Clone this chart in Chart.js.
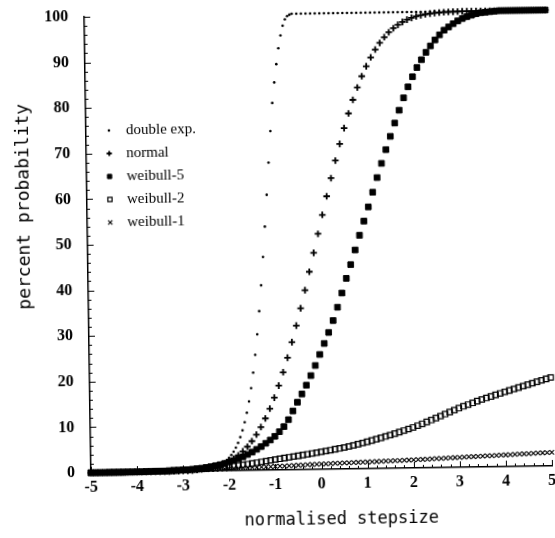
<!DOCTYPE html>
<html>
<head>
<meta charset="utf-8">
<script src="https://cdn.jsdelivr.net/npm/chart.js"></script>
<style>
  html, body { margin: 0; padding: 0; background: #fff; overflow: hidden; }
  #wrap { position: relative; width: 555px; height: 538px; }
  /* the scanned original sits slightly skewed on the page */
  #chart { position: absolute; left: 0; top: 0; transform: rotate(-0.85deg); }
</style>
</head>
<body>
<div id="wrap"><canvas id="chart" width="555" height="538"></canvas></div>
<script>
const xTickLabels = ['-5', '-4', '-3', '-2', '-1', '0', '1', '2', '3', '4', '5'];
const yTickLabels = ['0', '10', '20', '30', '40', '50', '60', '70', '80', '90', '100'];
const seriesNames = ['double exp.', 'normal', 'weibull-5', 'weibull-2', 'weibull-1'];

// normalised stepsize, sampled every 0.1
const stepsize = [
  -5.0, -4.9, -4.8, -4.7, -4.6, -4.5, -4.4, -4.3, -4.2, -4.1,
  -4.0, -3.9, -3.8, -3.7, -3.6, -3.5, -3.4, -3.3, -3.2, -3.1,
  -3.0, -2.9, -2.8, -2.7, -2.6, -2.5, -2.4, -2.3, -2.2, -2.1,
  -2.0, -1.9, -1.8, -1.7, -1.6, -1.5, -1.4, -1.3, -1.2, -1.1,
  -1.0, -0.9, -0.8, -0.7, -0.6, -0.5, -0.4, -0.3, -0.2, -0.1,
  0.0, 0.1, 0.2, 0.3, 0.4, 0.5, 0.6, 0.7, 0.8, 0.9,
  1.0, 1.1, 1.2, 1.3, 1.4, 1.5, 1.6, 1.7, 1.8, 1.9,
  2.0, 2.1, 2.2, 2.3, 2.4, 2.5, 2.6, 2.7, 2.8, 2.9,
  3.0, 3.1, 3.2, 3.3, 3.4, 3.5, 3.6, 3.7, 3.8, 3.9,
  4.0, 4.1, 4.2, 4.3, 4.4, 4.5, 4.6, 4.7, 4.8, 4.9,
  5.0
];

// double exp. is sampled more finely through its steep part
const doubleExpX = [
  -5.0, -4.9, -4.8, -4.7, -4.6, -4.5, -4.4, -4.3, -4.2, -4.1,
  -4.0, -3.9, -3.8, -3.7, -3.6, -3.5, -3.4, -3.3, -3.2, -3.1,
  -3.0, -2.9, -2.8, -2.7,
  -2.60, -2.55, -2.50, -2.45, -2.40, -2.35, -2.30, -2.25, -2.20, -2.15,
  -2.10, -2.05, -2.00, -1.95, -1.90, -1.85, -1.80, -1.75, -1.70, -1.65,
  -1.60, -1.55, -1.50, -1.45, -1.40, -1.35, -1.30, -1.25, -1.20, -1.15,
  -1.10, -1.05, -1.00, -0.95, -0.90, -0.85, -0.80, -0.75, -0.70, -0.65,
  -0.60, -0.55, -0.50,
  -0.4, -0.3, -0.2, -0.1,
  0.0, 0.1, 0.2, 0.3, 0.4, 0.5, 0.6, 0.7, 0.8, 0.9,
  1.0, 1.1, 1.2, 1.3, 1.4, 1.5, 1.6, 1.7, 1.8, 1.9,
  2.0, 2.1, 2.2, 2.3, 2.4, 2.5, 2.6, 2.7, 2.8, 2.9,
  3.0, 3.1, 3.2, 3.3, 3.4, 3.5, 3.6, 3.7, 3.8, 3.9,
  4.0, 4.1, 4.2, 4.3, 4.4, 4.5, 4.6, 4.7, 4.8, 4.9,
  5.0
];
const doubleExp = [
  0, 0, 0, 0, 0, 0, 0, 0, 0, 0,
  0, 0, 0, 0, 0, 0, 0.01, 0.02, 0.03, 0.04,
  0.06, 0.09, 0.14, 0.2,
  0.29, 0.35, 0.42, 0.51, 0.62, 0.75, 0.91, 1.1, 1.34, 1.62,
  1.96, 2.37, 2.86, 3.46, 4.18, 5.04, 6.08, 7.32, 8.8, 10.57,
  12.66, 15.13, 18.04, 21.42, 25.32, 29.82, 34.89, 40.55, 46.75, 53.42,
  60.38, 67.44, 74.33, 80.5, 85.0, 89.0, 92.5, 95.3, 97.4, 98.8,
  99.5, 99.8, 100,
  100, 100, 100, 100,
  100, 100, 100, 100, 100, 100, 100, 100, 100, 100,
  100, 100, 100, 100, 100, 100, 100, 100, 100, 100,
  100, 100, 100, 100, 100, 100, 100, 100, 100, 100,
  100, 100, 100, 100, 100, 100, 100, 100, 100, 100,
  100, 100, 100, 100, 100, 100, 100, 100, 100, 100,
  100
];

const normal = [
  0, 0, 0, 0, 0, 0, 0, 0, 0, 0,
  0, 0, 0, 0, 0, 0.01, 0.02, 0.03, 0.05, 0.07,
  0.1, 0.14, 0.2, 0.28, 0.38, 0.52, 0.7, 0.93, 1.22, 1.59,
  2.06, 2.63, 3.34, 4.19, 5.21, 6.41, 7.83, 9.47, 11.35, 13.48,
  15.87, 18.51, 21.42, 24.59, 27.99, 31.6, 35.38, 39.33, 43.37, 47.51,
  51.66, 55.8, 59.87, 63.83, 67.66, 71.31, 74.76, 77.96, 80.92, 83.62,
  86.07, 88.25, 90.18, 91.87, 93.32, 94.56, 95.62, 96.5, 97.24, 97.84,
  98.32, 98.71, 99.02, 99.26, 99.45, 99.59, 99.7, 99.78, 99.85, 99.89,
  99.92, 99.95, 99.97, 99.98, 100, 100, 100, 100, 100, 100,
  100, 100, 100, 100, 100, 100, 100, 100, 100, 100,
  100
];

const weibull5 = [
  0, 0, 0, 0, 0, 0, 0.01, 0.01, 0.02, 0.02,
  0.03, 0.04, 0.05, 0.06, 0.08, 0.1, 0.13, 0.16, 0.2, 0.25,
  0.3, 0.37, 0.45, 0.55, 0.65, 0.8, 0.95, 1.15, 1.35, 1.6,
  1.9, 2.2, 2.6, 3.0, 3.5, 4.0, 4.6, 5.2, 5.9, 6.6,
  7.4, 8.4, 9.5, 11.0, 12.9, 14.8, 16.6, 18.5, 20.6, 22.8,
  25.2, 27.6, 30.0, 32.6, 35.5, 38.6, 41.8, 44.8, 48.0, 51.2,
  54.3, 57.4, 60.6, 63.8, 66.9, 69.9, 72.8, 75.7, 78.5, 81.2,
  83.6, 85.8, 87.8, 89.5, 91.1, 92.5, 93.8, 94.9, 95.9, 96.6,
  97.3, 97.9, 98.4, 98.8, 99.1, 99.4, 99.6, 99.7, 99.8, 99.9,
  100, 100, 100, 100, 100, 100, 100, 100, 100, 100,
  100
];

const weibull2 = [
  0, 0, 0.01, 0.01, 0.02, 0.02, 0.03, 0.03, 0.04, 0.04,
  0.05, 0.07, 0.09, 0.11, 0.13, 0.15, 0.18, 0.21, 0.24, 0.27,
  0.3, 0.35, 0.4, 0.45, 0.5, 0.55, 0.62, 0.69, 0.76, 0.83,
  0.9, 1.02, 1.14, 1.26, 1.38, 1.5, 1.66, 1.82, 1.98, 2.14,
  2.3, 2.45, 2.6, 2.75, 2.9, 3.05, 3.2, 3.36, 3.52, 3.68,
  3.84, 4.0, 4.18, 4.36, 4.54, 4.72, 4.94, 5.16, 5.4, 5.65,
  5.9, 6.17, 6.44, 6.72, 7.0, 7.3, 7.6, 7.92, 8.24, 8.56,
  8.9, 9.28, 9.66, 10.06, 10.46, 10.88, 11.3, 11.72, 12.14, 12.56,
  12.98, 13.36, 13.72, 14.08, 14.44, 14.8, 15.12, 15.44, 15.76, 16.08,
  16.4, 16.7, 17.0, 17.3, 17.6, 17.9, 18.2, 18.5, 18.8, 19.1,
  19.4
];

const weibull1 = [
  0, 0, 0, 0, 0.01, 0.01, 0.02, 0.02, 0.03, 0.04,
  0.05, 0.06, 0.07, 0.08, 0.09, 0.1, 0.12, 0.14, 0.16, 0.18,
  0.2, 0.22, 0.24, 0.27, 0.3, 0.32, 0.35, 0.38, 0.41, 0.44,
  0.47, 0.5, 0.53, 0.56, 0.59, 0.62, 0.65, 0.69, 0.72, 0.76,
  0.8, 0.84, 0.87, 0.91, 0.95, 0.99, 1.02, 1.06, 1.1, 1.13,
  1.17, 1.2, 1.23, 1.27, 1.3, 1.33, 1.36, 1.39, 1.42, 1.45,
  1.48, 1.51, 1.54, 1.57, 1.6, 1.63, 1.66, 1.69, 1.72, 1.75,
  1.78, 1.82, 1.86, 1.9, 1.94, 1.98, 2.02, 2.06, 2.1, 2.14,
  2.18, 2.22, 2.26, 2.3, 2.34, 2.38, 2.42, 2.46, 2.5, 2.54,
  2.58, 2.62, 2.66, 2.7, 2.74, 2.78, 2.82, 2.86, 2.9, 2.94,
  2.98
];

const pairs = (xs, ys) => xs.map((x, i) => ({ x: x, y: ys[i] }));

// small inward tick marks on both axes
const innerTicks = {
  id: 'innerTicks',
  afterDraw(chart) {
    const { ctx, chartArea: a, scales: { x, y } } = chart;
    ctx.save();
    ctx.strokeStyle = '#000';
    ctx.lineWidth = 1;
    ctx.beginPath();
    for (let v = 0; v <= 100; v += 2) {
      const py = Math.round(y.getPixelForValue(v)) + 0.5;
      const len = v % 10 === 0 ? 6 : 3;
      ctx.moveTo(a.left, py);
      ctx.lineTo(a.left + len, py);
    }
    for (let k = 0; k <= 50; k++) {
      const v = -5 + k * 0.2;
      const px = Math.round(x.getPixelForValue(v)) + 0.5;
      const len = k % 5 === 0 ? 6 : 3;
      ctx.moveTo(px, a.bottom);
      ctx.lineTo(px, a.bottom - len);
    }
    ctx.stroke();
    ctx.restore();
  }
};

// axis titles
const axisTitles = {
  id: 'axisTitles',
  afterDraw(chart) {
    const ctx = chart.ctx;
    ctx.save();
    ctx.fillStyle = '#000';
    ctx.textAlign = 'center';
    ctx.textBaseline = 'middle';
    ctx.font = '17px "DejaVu Sans Mono"';
    ctx.fillText('normalised stepsize', 338, 521);
    ctx.translate(25, 203);
    ctx.rotate(-Math.PI / 2);
    ctx.font = '18px "DejaVu Sans Mono"';
    ctx.fillText('percent probability', 0, 0);
    ctx.restore();
  }
};

// legend inside the plot, upper left
const insideLegend = {
  id: 'insideLegend',
  afterDraw(chart) {
    const { ctx, chartArea: a } = chart;
    ctx.save();
    ctx.textBaseline = 'middle';
    ctx.font = '15px "Liberation Serif"';
    chart.data.datasets.forEach((ds, i) => {
      const y = a.top + 114 + i * 23;
      const x = a.left + 23;
      ctx.fillStyle = ds.pointBackgroundColor;
      ctx.strokeStyle = '#000';
      ctx.lineWidth = ds.pointBorderWidth || 1;
      Chart.helpers.drawPoint(ctx, {
        pointStyle: ds.pointStyle,
        radius: ds.legendRadius,
        borderWidth: ds.pointBorderWidth,
        rotation: 0
      }, x, y);
      ctx.fillStyle = '#000';
      ctx.fillText(ds.label, a.left + 40, y);
    });
    ctx.restore();
  }
};

const tickFont = { family: '"Liberation Serif"', size: 16, weight: 'bold' };

new Chart(document.getElementById('chart'), {
  type: 'scatter',
  data: {
    datasets: [
      {
        label: seriesNames[0],
        data: pairs(doubleExpX, doubleExp),
        pointStyle: 'circle',
        pointRadius: 1.3,
        legendRadius: 1.3,
        pointBorderWidth: 0,
        pointBackgroundColor: '#000',
        pointBorderColor: '#000',
        clip: false
      },
      {
        label: seriesNames[1],
        data: pairs(stepsize, normal),
        pointStyle: 'cross',
        pointRadius: 3.3,
        legendRadius: 2.6,
        pointBorderWidth: 1.8,
        pointBackgroundColor: '#000',
        pointBorderColor: '#000',
        clip: false
      },
      {
        label: seriesNames[2],
        data: pairs(stepsize, weibull5),
        pointStyle: 'rect',
        pointRadius: 4,
        legendRadius: 3,
        pointBorderWidth: 1,
        pointBackgroundColor: '#000',
        pointBorderColor: '#000',
        clip: false
      },
      {
        label: seriesNames[3],
        data: pairs(stepsize, weibull2),
        pointStyle: 'rect',
        pointRadius: 3.8,
        legendRadius: 3,
        pointBorderWidth: 1.2,
        pointBackgroundColor: 'rgba(255,255,255,0)',
        pointBorderColor: '#000',
        clip: false
      },
      {
        label: seriesNames[4],
        data: pairs(stepsize, weibull1),
        pointStyle: 'crossRot',
        pointRadius: 3.2,
        legendRadius: 3,
        pointBorderWidth: 1.1,
        pointBackgroundColor: '#000',
        pointBorderColor: '#000',
        clip: false
      }
    ]
  },
  options: {
    responsive: false,
    animation: false,
    devicePixelRatio: 1,
    events: [],
    layout: { padding: { top: 14, right: 6, bottom: 0, left: 0 } },
    scales: {
      x: {
        type: 'linear',
        min: -5,
        max: 5,
        afterFit(scale) { scale.height = 68; },
        grid: { display: true, drawOnChartArea: false, drawTicks: true, tickLength: 3, tickColor: 'rgba(0,0,0,0)' },
        border: { display: true, color: '#000', width: 1.5 },
        ticks: {
          stepSize: 1,
          autoSkip: false,
          maxRotation: 0,
          padding: 2,
          color: '#000',
          font: tickFont,
          callback: (v, i) => xTickLabels[i]
        }
      },
      y: {
        type: 'linear',
        min: 0,
        max: 100,
        afterFit(scale) { scale.width = 88; },
        grid: { display: true, drawOnChartArea: false, drawTicks: true, tickLength: 12, tickColor: 'rgba(0,0,0,0)' },
        border: { display: true, color: '#000', width: 1.5 },
        ticks: {
          stepSize: 10,
          autoSkip: false,
          padding: 4,
          color: '#000',
          font: tickFont,
          callback: (v, i) => yTickLabels[i]
        }
      }
    },
    plugins: {
      legend: { display: false },
      tooltip: { enabled: false }
    }
  },
  plugins: [innerTicks, axisTitles, insideLegend]
});
</script>
</body>
</html>
